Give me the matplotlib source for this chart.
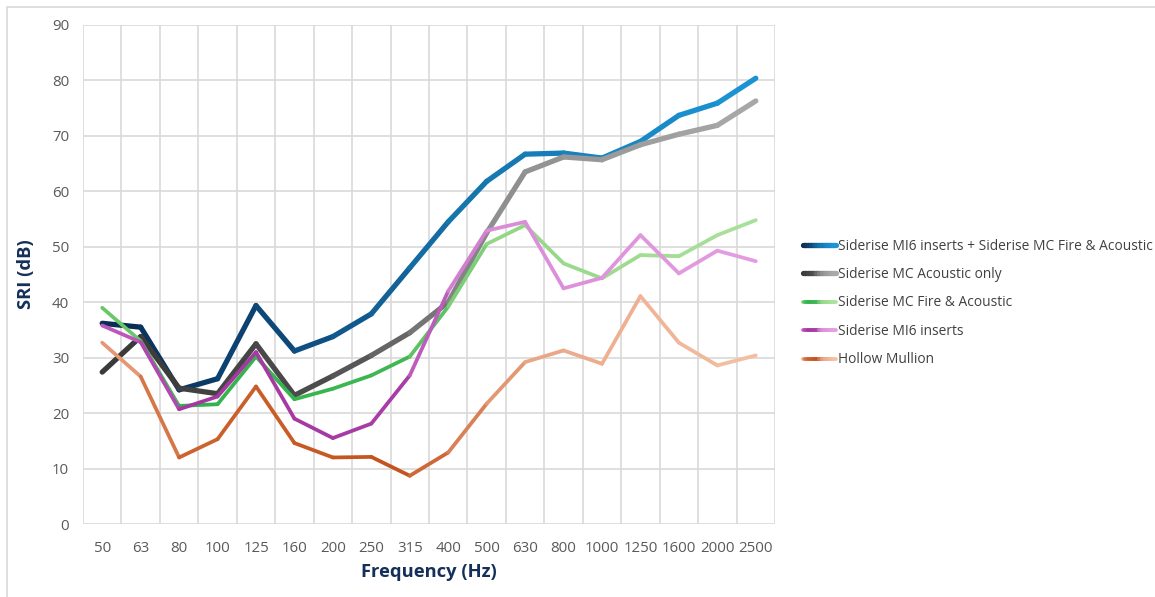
import numpy as np
import matplotlib
matplotlib.use("Agg")
import matplotlib.pyplot as plt
from matplotlib.collections import LineCollection
from matplotlib.colors import LinearSegmentedColormap
from matplotlib.legend_handler import HandlerBase
from matplotlib.patches import Rectangle

plt.rcParams["font.family"] = ["Open Sans", "DejaVu Sans"]

freqs = ["50", "63", "80", "100", "125", "160", "200", "250", "315", "400",
         "500", "630", "800", "1000", "1250", "1600", "2000", "2500"]

mi6_plus_mc = [36.2, 35.5, 24.2, 26.2, 39.4, 31.2, 33.8, 37.9, 46.2, 54.5,
               61.8, 66.7, 66.9, 66.0, 69.0, 73.7, 75.9, 80.4]
mc_acoustic = [27.4, 33.8, 24.5, 23.5, 32.5, 23.2, 26.7, 30.4, 34.5, 40.0,
               52.5, 63.5, 66.2, 65.7, 68.4, 70.3, 71.9, 76.3]
mc_fire_acoustic = [39.0, 33.0, 21.3, 21.6, 30.2, 22.5, 24.4, 26.8, 30.2, 39.2,
                    50.5, 53.9, 47.0, 44.3, 48.5, 48.3, 52.1, 54.8]
mi6_inserts = [35.8, 32.8, 20.7, 23.0, 31.0, 19.0, 15.5, 18.1, 26.8, 42.0,
               52.9, 54.5, 42.5, 44.4, 52.1, 45.2, 49.3, 47.4]
hollow_mullion = [32.7, 26.6, 12.0, 15.3, 24.8, 14.6, 12.0, 12.1, 8.7, 12.9,
                  21.7, 29.2, 31.3, 28.9, 41.1, 32.7, 28.6, 30.4]

series_names = ["Siderise MI6 inserts + Siderise MC Fire & Acoustic",
                "Siderise MC Acoustic only",
                "Siderise MC Fire & Acoustic",
                "Siderise MI6 inserts",
                "Hollow Mullion"]
series_values = [mi6_plus_mc, mc_acoustic, mc_fire_acoustic, mi6_inserts, hollow_mullion]

# gradient stops along the x direction, Excel style
gradients = [
    [(0.0, "#0A2A52"), (0.3, "#0E4C7E"), (0.55, "#1574AC"), (1.0, "#1B95D6")],
    [(0.0, "#383838"), (0.35, "#4E4E4E"), (0.6, "#8E8E8E"), (1.0, "#A9A9A9")],
    [(0.0, "#7DCD72"), (0.12, "#30B24E"), (0.45, "#3FB752"), (0.6, "#92D684"), (1.0, "#AAE19C")],
    [(0.0, "#C25EC1"), (0.15, "#A4379F"), (0.45, "#A83DA7"), (0.58, "#DA8AD8"), (1.0, "#E59DE1")],
    [(0.0, "#EEA688"), (0.12, "#CC6430"), (0.45, "#C4521C"), (0.65, "#E9A584"), (1.0, "#F4C0A3")],
]
widths = [3.8, 3.8, 2.7, 2.7, 2.7]

cmaps = [LinearSegmentedColormap.from_list(f"g{i}", g) for i, g in enumerate(gradients)]


class GradientHandler(HandlerBase):
    def __init__(self, cmap, lw):
        super().__init__()
        self.cmap = cmap
        self.lw = lw

    def create_artists(self, legend, orig_handle, xdescent, ydescent,
                       width, height, fontsize, trans):
        n = 12
        xs = np.linspace(-xdescent, width - xdescent, n + 1)
        y = height / 2 - ydescent
        segs = [[(xs[i], y), (xs[i + 1], y)] for i in range(n)]
        lc = LineCollection(segs, colors=self.cmap(np.linspace(0, 1, n)),
                            linewidths=self.lw, capstyle="round", transform=trans)
        return [lc]


fig = plt.figure(figsize=(11.55, 5.97), dpi=100)
fig.patches.append(Rectangle((7 / 1155, -0.1), 1.2, 1.1 - 7 / 597,
                             transform=fig.transFigure, fill=False,
                             edgecolor="#D9D9D9", linewidth=1.2))
ax = fig.add_axes([83 / 1155, 73 / 597, 692 / 1155, 499 / 597])

x = np.arange(len(freqs))
handles = []
for vals, cmap, lw in zip(series_values, cmaps, widths):
    pts = np.column_stack([x, vals])
    segs = np.stack([pts[:-1], pts[1:]], axis=1)
    mids = (x[:-1] + 0.5) / (len(x) - 1)
    lc = LineCollection(segs, colors=cmap(mids), linewidths=lw,
                        capstyle="round", joinstyle="round", zorder=3)
    ax.add_collection(lc)
    handles.append(lc)

ax.set_xlim(-0.5, len(freqs) - 0.5)
ax.set_ylim(0, 90)
ax.set_yticks(np.arange(0, 91, 10))
ax.set_xticks(x)
ax.set_xticklabels(freqs)
ax.set_xticks(np.arange(-0.5, len(freqs), 1), minor=True)
ax.grid(True, which="minor", axis="x", color="#D9D9D9", linewidth=1.2)
ax.grid(True, which="major", axis="y", color="#D9D9D9", linewidth=1.2)
ax.tick_params(which="both", length=0, colors="#595959", labelsize=10.8)
ax.tick_params(axis="x", pad=12)
ax.tick_params(axis="y", pad=10)
for s in ax.spines.values():
    s.set_visible(False)
ax.set_axisbelow(True)

ax.set_xlabel("Frequency (Hz)", fontsize=13.2, fontweight="bold", color="#14305A", labelpad=5)
ax.set_ylabel("SRI (dB)", fontsize=13.2, fontweight="bold", color="#14305A", labelpad=12)

hmap = {h: GradientHandler(c, lw) for h, c, lw in zip(handles, cmaps, widths)}
fig.legend(handles, series_names, handler_map=hmap, loc="upper left",
           bbox_to_anchor=(797 / 1155, 1 - 233 / 597), frameon=False,
           fontsize=9.9, labelcolor="#404040", handlelength=2.4,
           handletextpad=0.15, labelspacing=0.98, borderaxespad=0)

fig.savefig("out.png", dpi=100)
